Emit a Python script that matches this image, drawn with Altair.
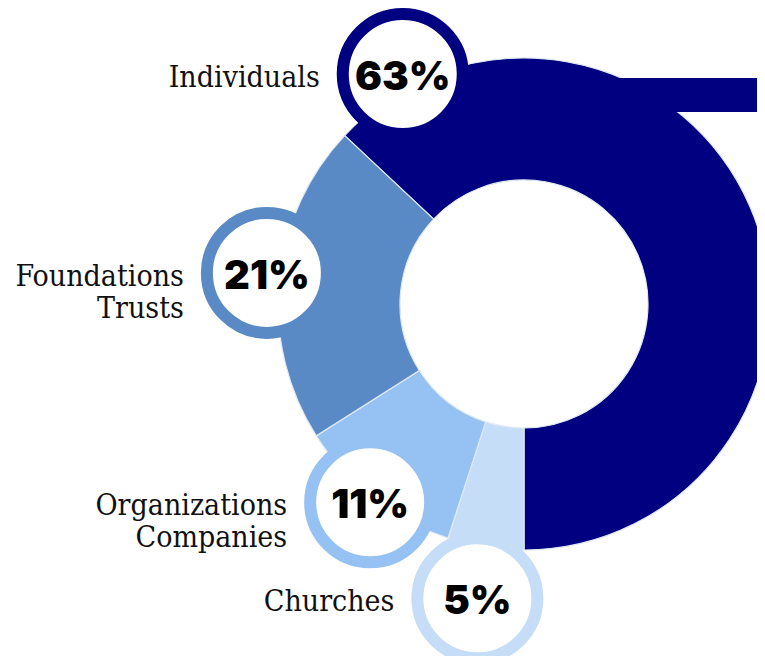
import math
import altair as alt
import pandas as pd

# ---- data ----
categories = ["Individuals", "Churches", "Organizations\nCompanies", "Foundations\nTrusts"]
shares = [63, 5, 11, 21]
colors = ["#000080", "#c6ddf8", "#95c1f3", "#5a8ac5"]

# ---- layout (pixels inside the plot area) ----
W, H = 749, 648
CX, CY = 516, 296          # donut centre
R_OUT, R_IN = 246, 124
badge_dist = [260, 298, 251, 259]      # distance of each badge from the centre
badge_shift = [-94.4, 0.0, 0.0, 1.5]   # degrees away from the slice's mid-angle
BADGE_R = 60                            # radius of the ring's centre line
RING = 12

start_deg = 180 - 3.6 * shares[0]       # first slice ends straight down
rows = []
cum = 0
for i, (c, s) in enumerate(zip(categories, shares)):
    mid = start_deg + (cum + s / 2) * 3.6 + badge_shift[i]
    a = math.radians(mid)
    rows.append({
        "cat": c,
        "share": s,
        "order": i,
        "pct": f"{s}%",
        "bx": CX + badge_dist[i] * math.sin(a),
        "by": CY - badge_dist[i] * math.cos(a),
    })
    cum += s
df = pd.DataFrame(rows)

col_scale = alt.Scale(domain=categories, range=colors)
t0 = math.radians(start_deg % 360)

arcs = alt.Chart(df).mark_arc(
    radius=R_OUT, radius2=R_IN, stroke="#dfe9f6", strokeWidth=1.2
).encode(
    theta=alt.Theta("share:Q", stack=True, scale=alt.Scale(range=[t0, t0 + 2 * math.pi])),
    order=alt.Order("order:Q", sort="ascending"),
    color=alt.Color("cat:N", scale=col_scale, legend=None),
    x=alt.value(CX),
    y=alt.value(CY),
)

bar = alt.Chart(pd.DataFrame({"k": [0]})).mark_rect(color="#000080").encode(
    x=alt.value(592), x2=alt.value(W), y=alt.value(70), y2=alt.value(104)
)

xs = alt.Scale(domain=[0, W], nice=False, zero=False)
ys = alt.Scale(domain=[0, H], nice=False, zero=False, reverse=True)

badges = alt.Chart(df).mark_point(
    shape="circle", filled=True, fill="white", fillOpacity=1, opacity=1,
    strokeOpacity=1, strokeWidth=RING, size=(2 * BADGE_R) ** 2
).encode(
    x=alt.X("bx:Q", scale=xs, axis=None),
    y=alt.Y("by:Q", scale=ys, axis=None),
    stroke=alt.Stroke("cat:N", scale=col_scale, legend=None),
)

pct = alt.Chart(df).mark_text(
    font="Inter", fontSize=40, fontWeight=900, color="#000000",
    align="center", baseline="middle", dy=4
).encode(
    x=alt.X("bx:Q", scale=xs, axis=None),
    y=alt.Y("by:Q", scale=ys, axis=None),
    text="pct:N",
)

labels = alt.Chart(df).mark_text(
    font="DejaVu Serif Condensed, DejaVu Serif", fontSize=30, color="#111111",
    align="right", baseline="middle", dx=-(BADGE_R + RING / 2 + 17), dy=4,
    lineBreak="\n", lineHeight=32
).encode(
    x=alt.X("bx:Q", scale=xs, axis=None),
    y=alt.Y("by:Q", scale=ys, axis=None),
    text="cat:N",
)

chart = alt.layer(arcs, bar, badges, pct, labels).properties(
    width=W, height=H, padding=0,
    autosize=alt.AutoSizeParams(type="none"),
).configure_view(stroke=None)

chart.save("out.html", embed_options={"renderer": "svg", "actions": False})
